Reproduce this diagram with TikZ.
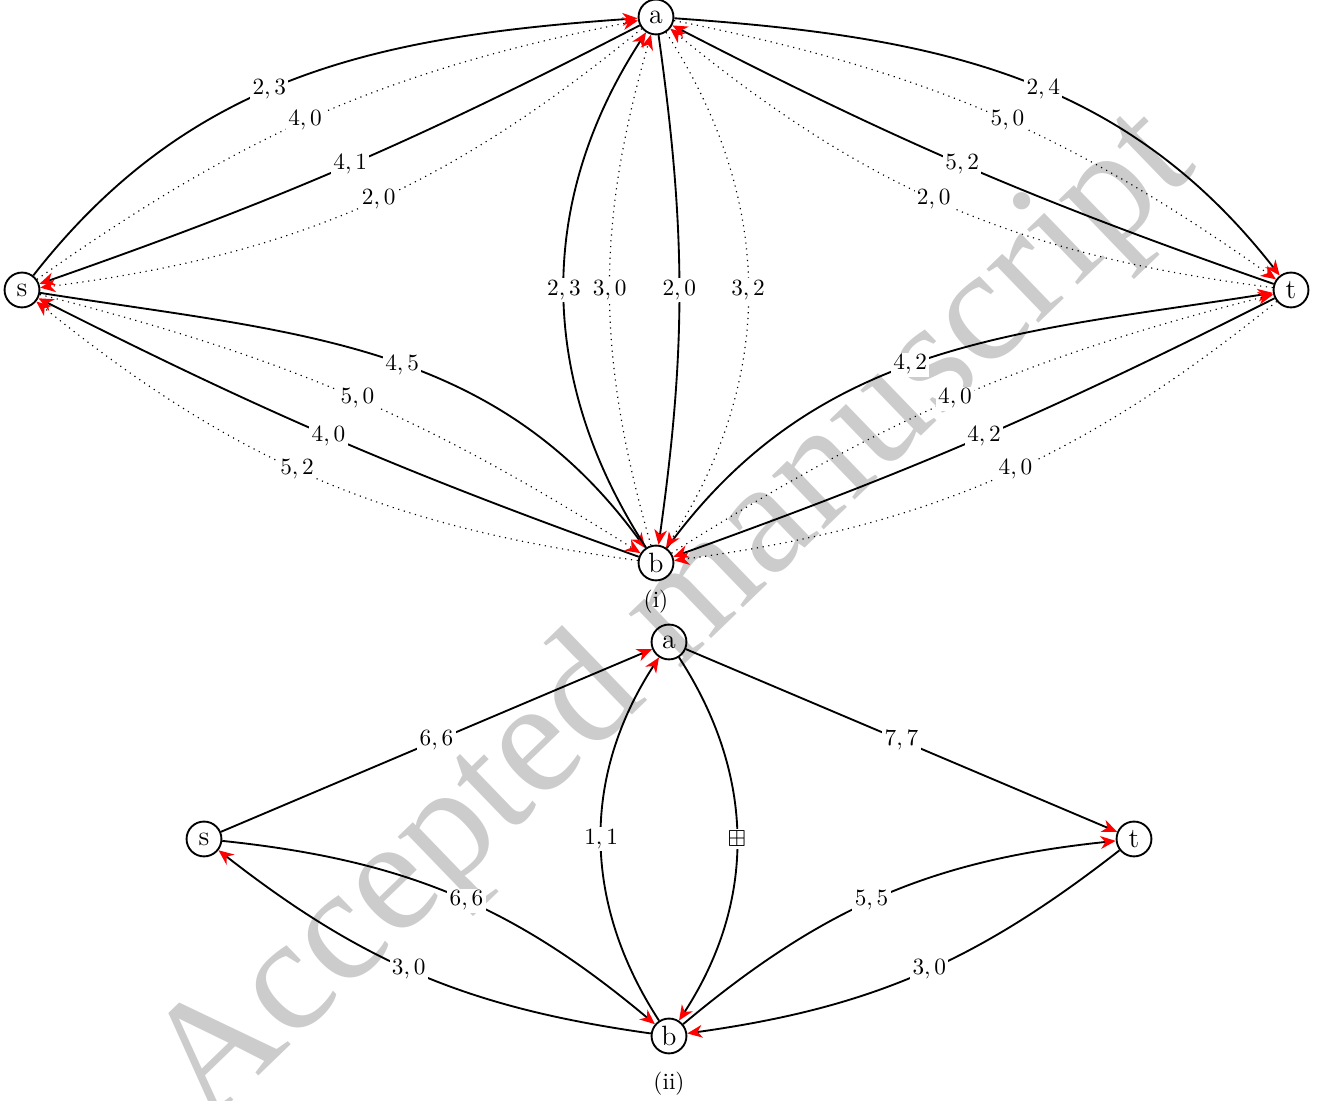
\documentclass[tikz,border=0pt]{standalone}
\usepackage{amssymb}
\usepackage{fontspec}
\newfontfamily\wmfont{Liberation Serif}
\usetikzlibrary{arrows.meta}
\begin{document}
\begin{tikzpicture}[x=0.43pt,y=0.43pt,
  vtx/.style={circle,draw,thick,minimum size=15pt,inner sep=0pt,font=\large},
  tipred/.style={-{Stealth[red,length=6.5pt,width=5.5pt,inset=2pt]}},
  solidedge/.style={thick,tipred},
  dottededge/.style={dotted,line width=0.5pt,tipred},
  lbl/.style={fill=white,inner sep=1pt},
  capt/.style={inner sep=0pt}]
\useasboundingbox (0,0) rectangle (1320,1101);
% watermark
\node[rotate=44,text=black!20,font=\wmfont\fontsize{70}{70}\selectfont] (wm) at (676,482) {Accepted manuscript};
% ---------- (i) ----------
\node[vtx] (a) at (656,1084) {a};
\node[vtx] (s) at (22,811) {s};
\node[vtx] (t) at (1291,811) {t};
\node[vtx] (b) at (656,538) {b};
\node[capt] (c1) at (656,499) {(i)};
% s-a
\draw[solidedge] (s) to[out=52,in=184] node[lbl,pos=0.45] {$2,3$} (a);
\draw[dottededge] (s) to[bend left=12] node[lbl,pos=0.47] {$4,0$} (a);
\draw[solidedge] (a) to[bend left=4] node[lbl,pos=0.49] {$4,1$} (s);
\draw[dottededge] (a) to[bend left=16] node[lbl,pos=0.47] {$2,0$} (s);
% a-t
\draw[solidedge] (a) to[out=-4,in=128] node[lbl,pos=0.55] {$2,4$} (t);
\draw[dottededge] (a) to[bend left=12] node[lbl,pos=0.53] {$5,0$} (t);
\draw[solidedge] (t) to[bend left=4] node[lbl,pos=0.51] {$5,2$} (a);
\draw[dottededge] (t) to[bend left=16] node[lbl,pos=0.53] {$2,0$} (a);
% s-b
\draw[solidedge] (s) to[out=-9,in=126] node[lbl,pos=0.535] {$4,5$} (b);
\draw[dottededge] (s) to[bend left=9] node[lbl,pos=0.51] {$5,0$} (b);
\draw[solidedge] (b) to[bend left=3.5] node[lbl,pos=0.51] {$4,0$} (s);
\draw[dottededge] (b) to[bend left=15.6] node[lbl,pos=0.535] {$5,2$} (s);
% b-t
\draw[solidedge] (b) to[out=54,in=189] node[lbl,pos=0.465] {$4,2$} (t);
\draw[dottededge] (b) to[bend left=9] node[lbl,pos=0.49] {$4,0$} (t);
\draw[solidedge] (t) to[bend left=3.5] node[lbl,pos=0.49] {$4,2$} (b);
\draw[dottededge] (t) to[bend left=15.6] node[lbl,pos=0.465] {$4,0$} (b);
% a-b
\draw[solidedge] (b) to[bend left=33] node[lbl] {$2,3$} (a);
\draw[dottededge] (b) to[bend left=16] node[lbl] {$3,0$} (a);
\draw[solidedge] (a) to[bend left=8] node[lbl] {$2,0$} (b);
\draw[dottededge] (a) to[bend left=33] node[lbl] {$3,2$} (b);
% ---------- (ii) ----------
\node[vtx] (a2) at (669,459) {a};
\node[vtx] (s2) at (204,262) {s};
\node[vtx] (t2) at (1134,262) {t};
\node[vtx] (b2) at (669,65) {b};
\node[capt] (c2) at (669,17) {(ii)};
\draw[solidedge] (s2) -- node[lbl] {$6,6$} (a2);
\draw[solidedge] (a2) -- node[lbl] {$7,7$} (t2);
\draw[solidedge] (b2) to[bend left=33] node[lbl] {$1,1$} (a2);
\draw[solidedge] (a2) to[bend left=33] node[lbl] {$\boxplus$} (b2);
\draw[solidedge] (s2) to[bend left=17] node[lbl,pos=0.53] {$6,6$} (b2);
\draw[solidedge] (b2) to[bend left=15] node[lbl,pos=0.53] {$3,0$} (s2);
\draw[solidedge] (b2) to[bend left=17] node[lbl,pos=0.47] {$5,5$} (t2);
\draw[solidedge] (t2) to[bend left=15] node[lbl,pos=0.47] {$3,0$} (b2);
\end{tikzpicture}
\end{document}
